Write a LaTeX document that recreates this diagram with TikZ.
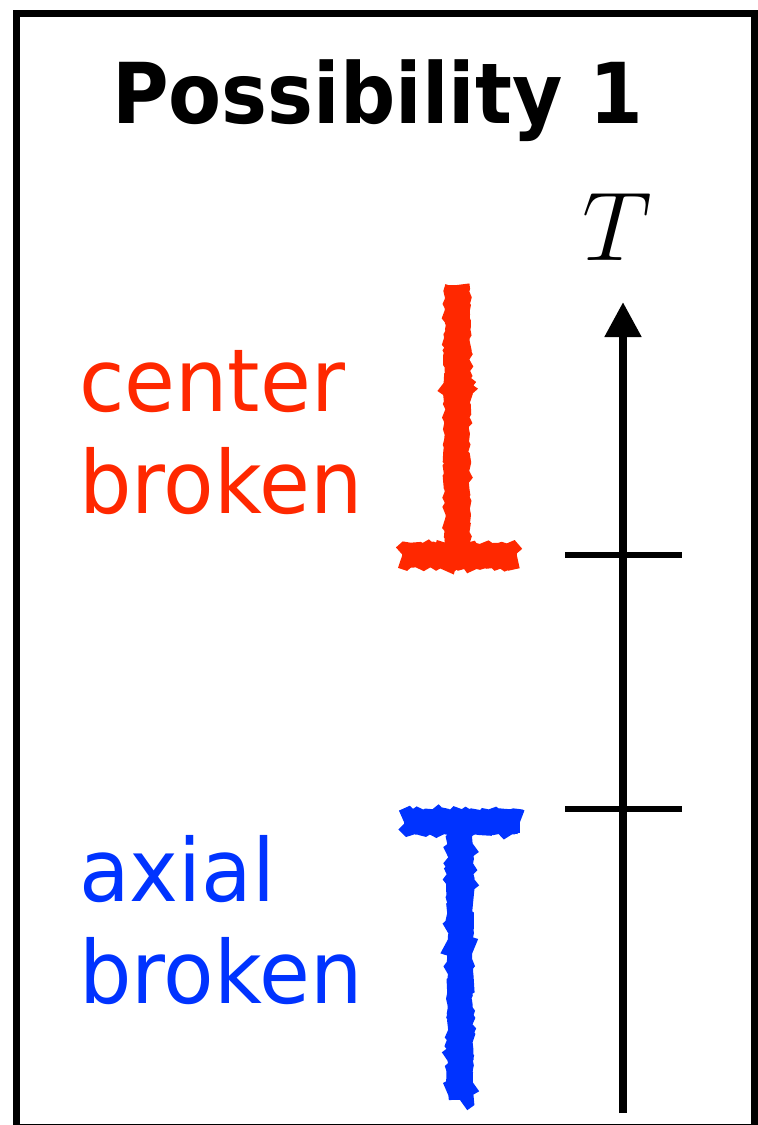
\documentclass[tikz,border=0pt]{standalone}
\usepackage{fix-cm}
\usepackage{fontspec}
\setmainfont[FakeStretch=0.95]{DejaVu Sans}
\newfontfamily\titlefont[FakeStretch=0.92]{DejaVu Sans Bold}
\usepackage{xcolor}
\definecolor{PhaseRed}{RGB}{255, 40, 0}
\definecolor{PhaseBlue}{RGB}{0, 51, 255}
\usepackage{tikz}
\usetikzlibrary{calc, positioning, arrows.meta, decorations.pathmorphing}

\begin{document}
\begin{tikzpicture}[x=1pt, y=-1pt,
    label/.style={anchor=base west, inner sep=0pt, font=\fontsize{87}{87}\selectfont},
    tick/.style={line width=6pt},
    chalk/.style={line width=22pt, line cap=butt},
    chalkedge/.style={line width=25pt, decorate,
        decoration={random steps, segment length=3pt, amplitude=1.6pt}}]

    \pgfmathsetseed{7}
    \useasboundingbox (0,0) rectangle (758,1125);

    % 1. THE FRAME
    \draw[line width=7pt] (16,13) rectangle (754.5,1127);

    % 2. THE TITLE
    \node[anchor=base, inner sep=0pt, font=\titlefont\fontsize{84}{84}\selectfont]
        (title) at (377.5,123) {Possibility 1};

    % 3. THE TEMPERATURE AXIS
    \coordinate (axisbot) at (623,1113);
    \coordinate (axistop) at (623,302);
    \draw[line width=8pt, -{Triangle[length=35pt, width=35pt]}] (axisbot) -- (axistop);
    \node[font=\fontsize{98}{98}\selectfont] (Tlab) at (617,227) {$T$};

    % ticks marking the two transitions
    \coordinate (tickhiL) at (565,555);
    \coordinate (tickhiR) at (682,555);
    \coordinate (tickloL) at (565,809);
    \coordinate (tickloR) at (682,809);
    \draw[tick] (tickhiL) -- (tickhiR);
    \draw[tick] (tickloL) -- (tickloR);

    % 4. CENTER BROKEN (upper phase) -> PhaseRed
    \node[label, text=PhaseRed] (centerA) at (79,411) {center};
    \node[label, text=PhaseRed] (centerB) at (79,513) {broken};
    \coordinate (redtop) at (457,285);
    \coordinate (redfoot) at (457,556);
    \coordinate (redL) at (402,556);
    \coordinate (redR) at (517,556);
    \foreach \sty in {chalk, chalkedge} {
        \draw[PhaseRed, \sty] (redtop) -- (redfoot);
        \draw[PhaseRed, \sty] (redL) -- (redR);
    }

    % 5. AXIAL BROKEN (lower phase) -> PhaseBlue
    \node[label, text=PhaseBlue] (axialA) at (79,901) {axial};
    \node[label, text=PhaseBlue] (axialB) at (79,1003) {broken};
    \coordinate (bluehead) at (460,822);
    \coordinate (bluebot) at (460,1100);
    \coordinate (blueL) at (404,822);
    \coordinate (blueR) at (520,822);
    \foreach \sty in {chalk, chalkedge} {
        \draw[PhaseBlue, \sty] (bluehead) -- (bluebot);
        \draw[PhaseBlue, \sty] (blueL) -- (blueR);
    }

\end{tikzpicture}
\end{document}
